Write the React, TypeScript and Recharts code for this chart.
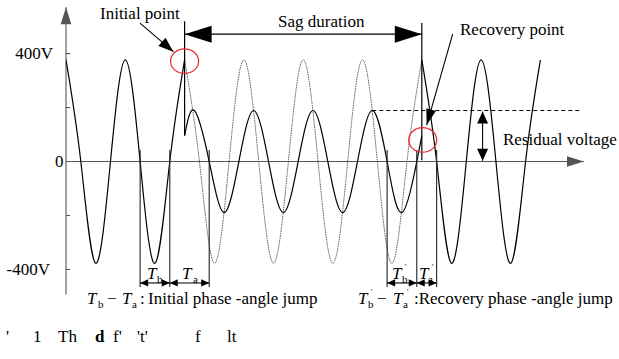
import React from "react";
import { ComposedChart, Line, XAxis, YAxis, ReferenceLine, ReferenceDot } from "recharts";

// time in ms (50 Hz supply), voltage in V
const preSagT = [0, 5, 10, 15, 20, 25, 30, 35, 40];
const preSagV = [377, 0, -377, 0, 377, 0, -377, 0, 377];

const hiddenT = [40, 45, 50, 55, 60, 65, 70, 75, 80, 85, 90, 95, 100, 105, 110, 115, 120];
const hiddenV = [377, 0, -377, 0, 377, 0, -377, 0, 377, 0, -377, 0, 377, 0, -377, 0, 377];

const sagT = [40, 43.3, 48.3, 53.3, 58.3, 63.3, 68.3, 73.3, 78.3, 83.3, 88.3, 93.3, 98.3, 103.3, 108.3, 113.3, 118.3, 120];
const sagV = [96, 189, 0, -189, 0, 189, 0, -189, 0, 189, 0, -189, 0, 189, 0, -189, 0, 95];

const postT = [120, 125, 130, 135, 140, 145, 150, 155, 160];
const postV = [377, 0, -377, 0, 377, 0, -377, 0, 377];

const yTicks = [-400, -200, 0, 200, 400];
const yTickLabels = ["-400V", "", "0", "", "400V"];

const initialT = 40;
const recoveryT = 120;
const initialMarks = [25, 35, 48.3]; // Tb start, Tb/Ta, Ta end
const recoveryMarks = [108.3, 118.3, 125];
const residualLevel = 189;
const residualFrom = 103.3;
const residualTo = 173.4;
const residualArrowT = 140.5;

const rows = (ts: number[], vs: number[]) => ts.map((t, i) => ({ t, v: vs[i] }));

const FONT = "Liberation Serif, Times New Roman, DejaVu Serif, serif";
const AXIS = "#555";

const head = (x1: number, y1: number, x2: number, y2: number, len: number, half: number) => {
  const dx = x2 - x1;
  const dy = y2 - y1;
  const d = Math.hypot(dx, dy) || 1;
  const ux = dx / d;
  const uy = dy / d;
  const bx = x2 - ux * len;
  const by = y2 - uy * len;
  return `${x2},${y2} ${bx - uy * half},${by + ux * half} ${bx + uy * half},${by - ux * half}`;
};

const arrow =
  (start: boolean, end: boolean, len: number, half: number, color = "#000", width = 1.1) =>
  (p: any) => (
    <g>
      <line x1={p.x1} y1={p.y1} x2={p.x2} y2={p.y2} stroke={color} strokeWidth={width} />
      {end && <polygon points={head(p.x1, p.y1, p.x2, p.y2, len, half)} fill={color} />}
      {start && <polygon points={head(p.x2, p.y2, p.x1, p.y1, len, half)} fill={color} />}
    </g>
  );

const ellipse = (p: any) => (
  <ellipse cx={p.cx} cy={p.cy} rx={14} ry={12.3} fill="none" stroke="#e8262a" strokeWidth={1.2} />
);

const txt = { style: { fontFamily: FONT, fontSize: 17, fill: "#000" } };
const sub = { style: { fontSize: 11 } };
const prime = { style: { fontSize: 8 } };
const ital = { style: { fontStyle: "italic" as const } };

const labelEndX = [50, 0, 63.5, 0, 53];
const YTick = (p: any) => {
  const i = yTicks.indexOf(p.payload.value);
  if (i < 0 || !yTickLabels[i]) return <g />;
  return (
    <text x={labelEndX[i]} y={p.y} dy={5.8} textAnchor="end" {...txt}>
      {yTickLabels[i]}
    </text>
  );
};

export default function App() {
  return (
    <div style={{ position: "absolute", left: 0, top: 0, width: 619, height: 359, background: "#fff", fontFamily: FONT }}>
      <ComposedChart width={619} height={359} margin={{ top: 5, right: 35, bottom: 62, left: 8 }}>
        <XAxis type="number" dataKey="t" domain={[0, 174.7]} allowDataOverflow hide />
        <YAxis
          type="number"
          domain={[-502, 580]}
          allowDataOverflow
          ticks={yTicks}
          width={58}
          axisLine={false}
          tickLine={false}
          tick={YTick}
        />

        {/* axes */}
        <ReferenceLine ifOverflow="visible" segment={[{ x: 0, y: -493 }, { x: 0, y: 572 }]} shape={arrow(false, true, 17, 5.3, AXIS, 1.1)} />
        <ReferenceLine ifOverflow="visible" segment={[{ x: 0, y: 0 }, { x: 174.7, y: 0 }]} shape={arrow(false, true, 17, 5.3, AXIS, 1.1)} />
        {yTicks.filter((v) => v !== 0).map((v) => (
          <ReferenceLine key={v} ifOverflow="visible" segment={[{ x: 0, y: v }, { x: 1.35, y: v }]} stroke={AXIS} strokeWidth={1.1} />
        ))}

        {/* waveforms */}
        <Line data={rows(hiddenT, hiddenV)} dataKey="v" type="natural" stroke="#555" strokeWidth={0.9} strokeDasharray="1.6 0.8" dot={false} isAnimationActive={false} />
        <Line data={rows(preSagT, preSagV)} dataKey="v" type="natural" stroke="#000" strokeWidth={1.2} dot={false} isAnimationActive={false} />
        <Line data={rows(sagT, sagV)} dataKey="v" type="natural" stroke="#000" strokeWidth={1.2} dot={false} isAnimationActive={false} />
        <Line data={rows(postT, postV)} dataKey="v" type="natural" stroke="#000" strokeWidth={1.2} dot={false} isAnimationActive={false} />

        {/* sag start / end */}
        <ReferenceLine ifOverflow="visible" segment={[{ x: initialT, y: 96 }, { x: initialT, y: 520 }]} stroke="#000" strokeWidth={1.2} />
        <ReferenceLine ifOverflow="visible" segment={[{ x: recoveryT, y: 5 }, { x: recoveryT, y: 513 }]} stroke="#000" strokeWidth={1.2} />
        <ReferenceLine ifOverflow="visible" segment={[{ x: initialT, y: 472 }, { x: recoveryT, y: 472 }]} shape={arrow(true, true, 27, 8.5)} />

        {/* residual voltage */}
        <ReferenceLine ifOverflow="visible" segment={[{ x: residualFrom, y: residualLevel }, { x: residualTo, y: residualLevel }]} stroke="#000" strokeWidth={1} strokeDasharray="4 3" />
        <ReferenceLine ifOverflow="visible" segment={[{ x: residualArrowT, y: residualLevel - 4 }, { x: residualArrowT, y: 3 }]} shape={arrow(true, true, 12, 5.5)} />

        {/* phase-angle jump markers */}
        {[...initialMarks, ...recoveryMarks].map((t) => (
          <ReferenceLine key={t} ifOverflow="visible" segment={[{ x: t, y: 43 }, { x: t, y: -465 }]} stroke="#222" strokeWidth={1.1} />
        ))}
        {[initialMarks, recoveryMarks].map((m) =>
          [0, 1].map((k) => (
            <ReferenceLine
              key={`${m[k]}-a`}
              ifOverflow="visible"
              segment={[{ x: m[k], y: -450 }, { x: m[k + 1], y: -450 }]}
              shape={arrow(true, true, 8, 3.6)}
            />
          ))
        )}

        {/* pointer arrows */}
        <ReferenceLine ifOverflow="visible" segment={[{ x: 24.96, y: 513 }, { x: 36.2, y: 407 }]} shape={arrow(false, true, 15, 5.5)} />
        <ReferenceLine ifOverflow="visible" segment={[{ x: 130.4, y: 472 }, { x: 121.65, y: 135 }]} shape={arrow(false, true, 16, 5)} />

        <ReferenceDot ifOverflow="visible" x={initialT} y={372} shape={ellipse} />
        <ReferenceDot ifOverflow="visible" x={120.3} y={80} shape={ellipse} />

        {/* annotations */}
        <text x={100} y={18.5} {...txt}>Initial point</text>
        <text x={278} y={27} {...txt}>Sag duration</text>
        <text x={460} y={35} {...txt}>Recovery point</text>
        <text x={503} y={145} {...txt}>Residual voltage</text>

        <text y={279} {...txt}>
          <tspan x={147} {...ital}>T</tspan>
          <tspan x={157} dy={4} {...sub}>b</tspan>
        </text>
        <text y={279} {...txt}>
          <tspan x={182} {...ital}>T</tspan>
          <tspan x={193} dy={4} {...sub}>a</tspan>
        </text>
        <text y={279} {...txt}>
          <tspan x={392} {...ital}>T</tspan>
          <tspan x={402} dy={4} {...sub}>b</tspan>
          <tspan x={405} dy={-13} {...prime}>'</tspan>
        </text>
        <text y={279} {...txt}>
          <tspan x={419} {...ital}>T</tspan>
          <tspan x={428} dy={4} {...sub}>a</tspan>
          <tspan x={432} dy={-13} {...prime}>'</tspan>
        </text>

        <text y={304} {...txt}>
          <tspan x={87} {...ital}>T</tspan>
          <tspan x={98} dy={4} {...sub}>b</tspan>
          <tspan x={107} dy={-4}>−</tspan>
          <tspan x={122} {...ital}>T</tspan>
          <tspan x={132} dy={4} {...sub}>a</tspan>
          <tspan x={140} dy={-4}>:</tspan>
          <tspan x={148}>Initial phase -angle jump</tspan>
        </text>
        <text y={304} {...txt}>
          <tspan x={358} {...ital}>T</tspan>
          <tspan x={368} dy={4} {...sub}>b</tspan>
          <tspan x={371} dy={-13} {...prime}>'</tspan>
          <tspan x={377} dy={9}>−</tspan>
          <tspan x={393} {...ital}>T</tspan>
          <tspan x={403} dy={4} {...sub}>a</tspan>
          <tspan x={407} dy={-13} {...prime}>'</tspan>
          <tspan x={414} dy={9}>:Recovery phase -angle jump</tspan>
        </text>

        <text y={342} {...txt}>
          <tspan x={6}>'</tspan>
          <tspan x={33}>1</tspan>
          <tspan x={58}>Th</tspan>
          <tspan x={95} style={{ fontWeight: "bold" }}>d</tspan>
          <tspan x={113}>f'</tspan>
          <tspan x={137}>'t'</tspan>
          <tspan x={195}>f</tspan>
          <tspan x={227}>lt</tspan>
        </text>
      </ComposedChart>
    </div>
  );
}
